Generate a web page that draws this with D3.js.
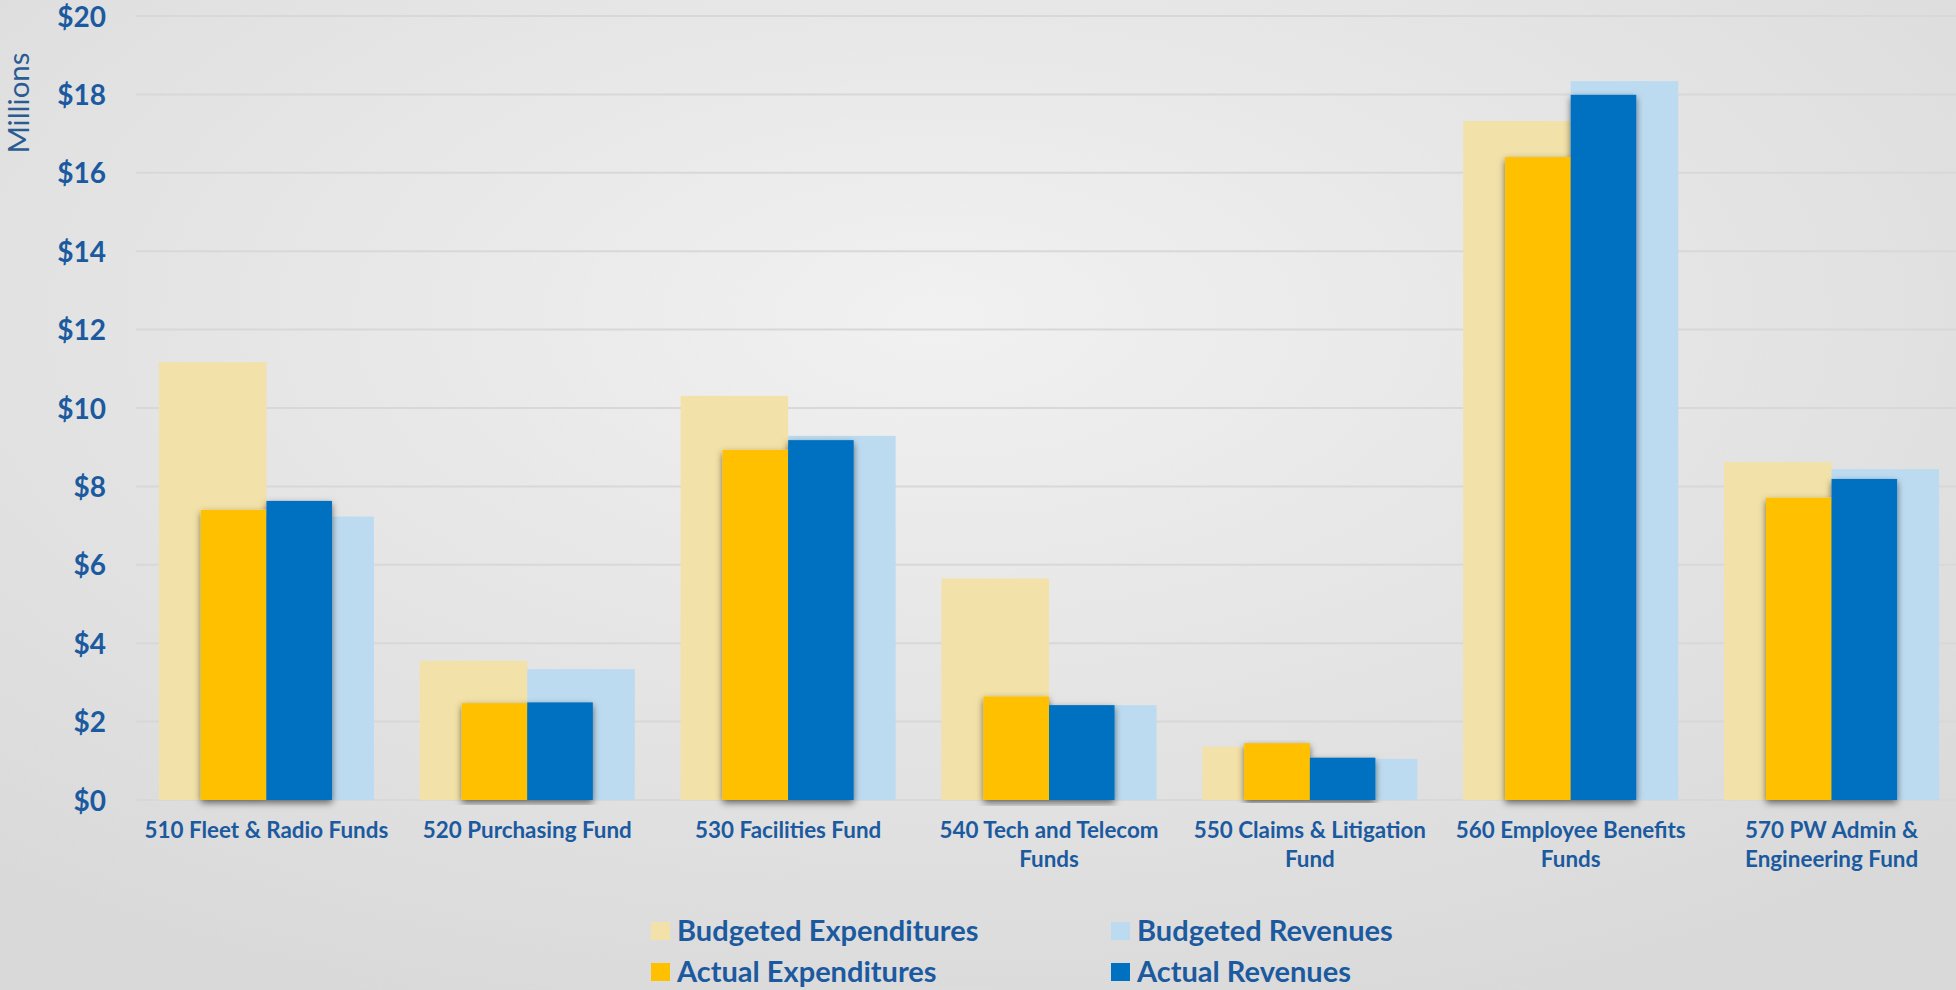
<!DOCTYPE html>
<html>
<head>
<meta charset="utf-8">
<script src="https://cdn.jsdelivr.net/npm/d3@7"></script>
<style>
  body { margin: 0; }
  svg { display: block; font-family: Lato, "Open Sans", sans-serif; }
</style>
</head>
<body>
<script>
// chart data (millions of dollars)
var categories = ["510 Fleet & Radio Funds", "520 Purchasing Fund", "530 Facilities Fund",
  "540 Tech and Telecom Funds", "550 Claims & Litigation Fund",
  "560 Employee Benefits Funds", "570 PW Admin & Engineering Fund"];
var budgetedExpenditures = [11.17, 3.55, 10.31, 5.65, 1.36, 17.32, 8.62];
var budgetedRevenues = [7.23, 3.34, 9.29, 2.42, 1.05, 18.34, 8.44];
var actualExpenditures = [7.40, 2.47, 8.93, 2.64, 1.45, 16.40, 7.71];
var actualRevenues = [7.63, 2.49, 9.18, 2.42, 1.08, 17.99, 8.19];
var yTicks = [0, 2, 4, 6, 8, 10, 12, 14, 16, 18, 20];
var budgetSeries = ["Budgeted Expenditures", "Budgeted Revenues"];
var actualSeries = ["Actual Expenditures", "Actual Revenues"];

var colors = {
  "Budgeted Expenditures": "#F2E1A8",
  "Budgeted Revenues": "#BDDBF0",
  "Actual Expenditures": "#FFC000",
  "Actual Revenues": "#0070C0"
};
var textColor = "#1C5A9F";

// set the dimensions and margins of the graph
var fullWidth = 1956, fullHeight = 990;
var margin = {top: 16, right: -6, bottom: 190, left: 136},
width = fullWidth - margin.left - margin.right,
height = fullHeight - margin.top - margin.bottom;

var svg0 = d3.select("body").append("svg")
    .attr("width", fullWidth)
    .attr("height", fullHeight);

// background gradient and bar shadow
var defs = svg0.append("defs");
var grad = defs.append("radialGradient")
    .attr("id", "bg")
    .attr("cx", "48%").attr("cy", "32%").attr("r", "75%");
grad.append("stop").attr("offset", "0%").attr("stop-color", "#F1F1F1");
grad.append("stop").attr("offset", "100%").attr("stop-color", "#D9D9D9");

var shadow = defs.append("filter")
    .attr("id", "shadow")
    .attr("x", "-20%").attr("y", "-5%").attr("width", "140%").attr("height", "110%");
shadow.append("feDropShadow")
    .attr("dx", 0).attr("dy", 3)
    .attr("stdDeviation", 3.5)
    .attr("flood-color", "#000")
    .attr("flood-opacity", 0.55);

svg0.append("rect")
    .attr("width", fullWidth)
    .attr("height", fullHeight)
    .attr("fill", "url(#bg)");

var svg = svg0.append("g")
    .attr("transform", "translate(" + margin.left + "," + margin.top + ")");

// set the ranges
var x = d3.scaleBand().domain(categories).range([0, width]).padding(0);
var xBudget = d3.scaleBand().domain(budgetSeries)
    .range([0, x.bandwidth()]).paddingInner(0).paddingOuter(0.213);
var xActual = d3.scaleBand().domain(actualSeries)
    .range([0, x.bandwidth()]).paddingInner(0).paddingOuter(0.99);
var y = d3.scaleLinear().domain([0, 20]).range([height, 0]);

// gridlines
svg.append("g")
    .selectAll("line")
    .data(yTicks)
  .enter().append("line")
    .attr("x1", 0)
    .attr("x2", width)
    .attr("y1", function(d) { return y(d); })
    .attr("y2", function(d) { return y(d); })
    .attr("stroke", "#D8D8D8")
    .attr("stroke-width", 2);

// build rows per category
var rows = categories.map(function(c, i) {
  return {
    category: c,
    "Budgeted Expenditures": budgetedExpenditures[i],
    "Budgeted Revenues": budgetedRevenues[i],
    "Actual Expenditures": actualExpenditures[i],
    "Actual Revenues": actualRevenues[i]
  };
});

// budgeted bars (wide, behind)
svg.append("g")
    .selectAll("g")
    .data(rows)
  .enter().append("g")
    .attr("transform", function(d) { return "translate(" + x(d.category) + ",0)"; })
    .selectAll("rect")
    .data(function(d) { return budgetSeries.map(function(k) { return {key: k, value: d[k]}; }); })
  .enter().append("rect")
    .attr("x", function(d) { return xBudget(d.key); })
    .attr("width", xBudget.bandwidth())
    .attr("y", function(d) { return y(d.value); })
    .attr("height", function(d) { return height - y(d.value); })
    .attr("fill", function(d) { return colors[d.key]; });

// actual bars (narrow, in front, with shadow)
svg.append("g")
    .selectAll("g")
    .data(rows)
  .enter().append("g")
    .attr("filter", "url(#shadow)")
    .attr("transform", function(d) { return "translate(" + x(d.category) + ",0)"; })
    .selectAll("rect")
    .data(function(d) { return actualSeries.map(function(k) { return {key: k, value: d[k]}; }); })
  .enter().append("rect")
    .attr("x", function(d) { return xActual(d.key); })
    .attr("width", xActual.bandwidth())
    .attr("y", function(d) { return y(d.value); })
    .attr("height", function(d) { return height - y(d.value); })
    .attr("fill", function(d) { return colors[d.key]; });

// Add the Y Axis
var yAxis = svg.append("g")
    .attr("transform", "translate(-30,0)")
    .call(d3.axisLeft(y).tickValues(yTicks).tickSize(0).tickFormat(function(d) { return "$" + d; }));
yAxis.select(".domain").remove();
yAxis.selectAll("text")
    .attr("x", 0)
    .attr("dy", "0.36em")
    .style("font-family", "Lato, sans-serif")
    .style("font-size", "28px")
    .style("font-weight", "bold")
    .style("fill", textColor);

// Add the X Axis
var xAxis = svg.append("g")
    .attr("transform", "translate(0," + height + ")")
    .call(d3.axisBottom(x).tickSize(0));
xAxis.select(".domain").remove();
xAxis.selectAll("text")
    .attr("y", 38)
    .attr("dy", 0)
    .style("font-family", "Lato, sans-serif")
    .style("font-size", "22.4px")
    .style("font-weight", "bold")
    .style("fill", textColor)
    .call(wrap, 252);

function wrap(text, maxWidth) {
  text.each(function() {
    var t = d3.select(this),
        words = t.text().split(/\s+/),
        line = [],
        lineNo = 0,
        yPos = t.attr("y"),
        tspan = t.text(null).append("tspan").attr("x", 0).attr("y", yPos);
    words.forEach(function(w) {
      line.push(w);
      tspan.text(line.join(" "));
      if (tspan.node().getComputedTextLength() > maxWidth && line.length > 1) {
        line.pop();
        tspan.text(line.join(" "));
        line = [w];
        lineNo++;
        tspan = t.append("tspan").attr("x", 0).attr("y", +yPos + lineNo * 29).text(w);
      }
    });
  });
}

// y axis title
svg0.append("text")
    .attr("transform", "rotate(-90)")
    .attr("x", -103)
    .attr("y", 29)
    .style("text-anchor", "middle")
    .style("font-size", "29.5px")
    .style("fill", "#2A5C92")
    .text("Millions");

// legend
var legendItems = ["Budgeted Expenditures", "Budgeted Revenues", "Actual Expenditures", "Actual Revenues"];
var legend = svg0.append("g")
    .selectAll("g")
    .data(legendItems)
  .enter().append("g")
    .attr("transform", function(d, i) {
      return "translate(" + (651 + (i % 2) * 460) + "," + (922 + Math.floor(i / 2) * 41) + ")";
    });
legend.append("rect")
    .attr("width", 19)
    .attr("height", 18)
    .attr("fill", function(d) { return colors[d]; });
legend.append("text")
    .attr("x", 26)
    .attr("y", 19)
    .style("font-size", "29px")
    .style("font-weight", "bold")
    .style("fill", textColor)
    .text(function(d) { return d; });
</script>
</body>
</html>
